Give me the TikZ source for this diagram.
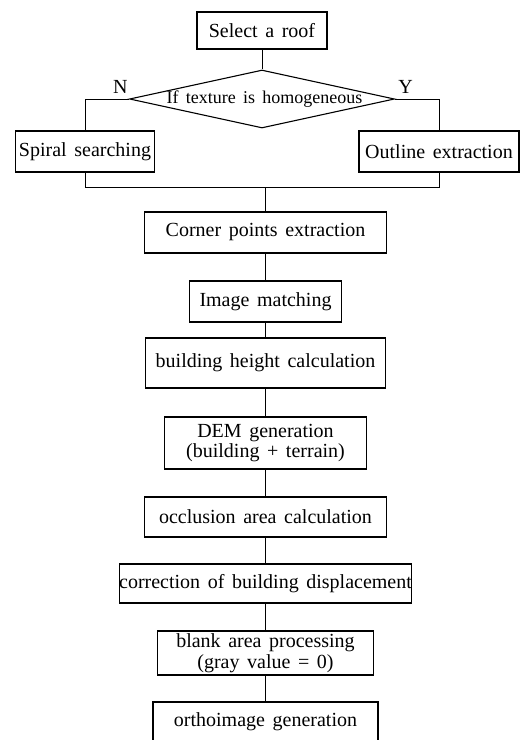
\documentclass[tikz,border=0pt]{standalone}
\usepackage{fontspec}
\setmainfont{Liberation Serif}
\usetikzlibrary{shapes.geometric,positioning}
\newcommand{\boxfont}{\fontsize{20}{20.5}\selectfont\spaceskip 0.38em\relax}
\newcommand{\testfont}{\fontsize{18}{21}\selectfont\spaceskip 0.4em\relax}
\begin{document}
\begin{tikzpicture}[x=1pt, y=-1pt, node distance=69pt, line width=0.8pt, font=\boxfont, main/.style = {draw, rectangle, line width=1.1pt, align=center, inner sep=0pt, minimum height=41pt}, test/.style = {draw, diamond, line width=1.1pt, inner sep=0pt, minimum width=265pt, minimum height=58pt, font=\testfont}]
    \useasboundingbox (0,0) rectangle (521,740);
    \clip (0,0) rectangle (521,740);
    \node[main, minimum width=130pt, minimum height=37pt] (1) at (262,30.5) {Select a roof};
    \node[test] (2) at (262,99) {\makebox[0pt]{\hspace{5pt}If texture is homogeneous}};
    \node[inner sep=0pt] (n) [above left=5pt and 1pt of 2.west] {N};
    \node[inner sep=0pt] (y) [above right=5pt and 3pt of 2.east] {Y};
    \node[main, minimum width=139pt] (3) at (85,151.5) {Spiral searching};
    \node[main, minimum width=160pt] (4) at (439,151.5) {Outline extraction};
    \coordinate (j) at (265.5,187);
    \node[main, minimum width=242pt] (5) at (265.5,232.5) {Corner points extraction};
    \node[main, minimum width=152pt] (6) [below of=5] {Image matching};
    \node[main, minimum width=240pt, minimum height=50pt, node distance=61.5pt] (7) [below of=6] {building height calculation};
    \node[main, minimum width=202pt, minimum height=52pt, node distance=80pt] (8) [below of=7] {DEM generation\\(building + terrain)};
    \node[main, minimum width=242pt, minimum height=40pt, node distance=74pt] (9) [below of=8] {occlusion area calculation};
    \node[main, minimum width=290pt, minimum height=39pt, node distance=66.5pt] (10) [below of=9] {correction of building displacement};
    \node[main, minimum width=216pt, minimum height=44pt, node distance=69.5pt] (11) [below of=10] {blank area processing\\(gray value = 0)};
    \node[main, minimum width=225pt, minimum height=40pt] (12) [below of=11] {orthoimage generation};

    \draw (1) -- (2);
    \draw (2.west) -| (3.north);
    \draw (2.east) -| (4.north);
    \draw (3.south) |- (j);
    \draw (4.south) |- (j);
    \draw (j) -- (5);
    \draw (5) -- (6);
    \draw (6) -- (7);
    \draw (7) -- (8);
    \draw (8) -- (9);
    \draw (9) -- (10);
    \draw (10) -- (11);
    \draw (11) -- (12);
\end{tikzpicture}
\end{document}
